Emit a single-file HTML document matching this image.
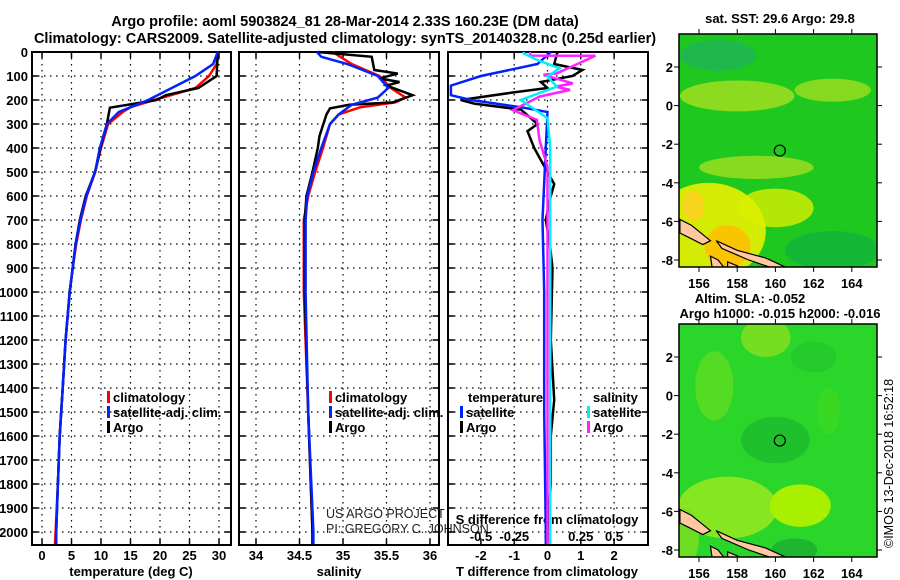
<!DOCTYPE html>
<html><head><meta charset="utf-8"><style>
body{margin:0;background:#fff}
svg{display:block;font-family:"Liberation Sans",sans-serif;font-weight:bold}
</style></head><body>
<svg id="c" width="900" height="580" viewBox="0 0 900 580">
<text x="345" y="26" font-size="14.5" text-anchor="middle">Argo profile: aoml 5903824_81 28-Mar-2014 2.33S 160.23E (DM data)</text>
<text x="345" y="43" font-size="14.5" text-anchor="middle">Climatology: CARS2009. Satellite-adjusted climatology: synTS_20140328.nc (0.25d earlier)</text>
<g id="g"></g>
</svg>
<script>
const depthTicks=[0,100,200,300,400,500,600,700,800,900,1000,1100,1200,1300,1400,1500,1600,1700,1800,1900,2000];
const tempTicks=[0,5,10,15,20,25,30];
const salTicks=[34,34.5,35,35.5,36];
const dTTicks=[-2,-1,0,1,2];
const dSTicks=[-0.5,-0.25,0,0.25,0.5];
const tArgoDepth=[0,100,150,180,200,232,300,400,500,600,700,800,900,1000,1200,1400,1600,1800,2000,2050];
const tArgo=[29.8,29.6,26.5,21,19.4,11.5,11,9.9,9,7.4,6.4,5.7,5.2,4.7,4,3.5,3,2.7,2.4,2.4];
const tClimDepth=[0,50,100,150,200,230,250,300,400,500,600,700,800,900,1000,1200,1400,1600,1800,2000,2050];
const tClim=[29.8,29.6,28.3,26,19,15,13.7,11.2,10,9,7.6,6.6,5.8,5.2,4.7,4,3.5,3,2.7,2.3,2.2];
const tSatDepth=[0,50,100,150,200,250,300,400,500,600,700,800,900,1000,1200,1400,1600,1800,2000,2050];
const tSat=[29.8,29,26,22,18,13,11,9.8,9,7.5,6.5,5.7,5.2,4.7,4,3.5,3,2.7,2.4,2.4];
const sArgoDepth=[0,20,75,90,110,125,140,180,210,220,235,260,350,400,500,600,700,1000,1500,2000,2050];
const sArgo=[34.71,35.33,35.36,35.63,35.42,35.65,35.5,35.8,35.57,35.07,34.85,34.81,34.73,34.71,34.65,34.58,34.56,34.56,34.6,34.65,34.65];
const sClimDepth=[0,50,100,150,190,210,230,260,300,400,500,600,700,1000,1500,2000,2050];
const sClim=[34.88,35.1,35.42,35.55,35.72,35.6,35.2,34.95,34.85,34.77,34.68,34.6,34.55,34.55,34.6,34.65,34.65];
const sSatDepth=[0,20,50,100,150,190,220,260,300,400,500,600,700,1000,1500,2000,2050];
const sSat=[34.7,34.75,35.05,35.4,35.52,35.4,35.1,34.95,34.85,34.75,34.66,34.59,34.57,34.57,34.6,34.66,34.66];
const dTSatDepth=[0,50,100,140,180,200,230,250,400,700,1000,1500,2000,2050];
const dTSat=[0.1,-0.3,-2,-2.9,-2.9,-2.3,-0.8,0,-0.05,-0.15,-0.1,-0.1,-0.05,-0.05];
const dTArgoDepth=[0,50,75,100,125,150,170,200,215,240,300,330,400,450,500,550,600,700,800,900,1200,1450,1600,1800,2000,2050];
const dTArgo=[0.3,0.2,1.05,0.75,-0.2,0,-1.1,-2.6,-2.2,-0.8,-0.3,-0.6,-0.4,-0.2,0,0.2,0.1,-0.05,0.07,0.15,0.1,0.2,0.1,0.1,0,0];
const dSArgoDepth=[0,15,16,89,95,131,144,158,186,242,283,367,478,700,1000,1500,2000,2050];
const dSArgo=[-0.13,-0.13,0.36,0.07,-0.03,0.19,0.06,0.17,-0.06,-0.26,-0.08,-0.06,0,0,0,0,0,0];
const dSSatDepth=[0,5,33,68,103,144,200,276,400,700,1000,1500,2000,2050];
const dSSat=[-0.18,-0.18,-0.08,0.09,0,0.07,-0.2,0,0.02,0.02,0.02,0.02,0.02,0.02];

const NS='http://www.w3.org/2000/svg';const G=document.getElementById('g');
function el(t,a,p){const e=document.createElementNS(NS,t);for(const k in a)e.setAttribute(k,a[k]);(p||G).appendChild(e);return e;}
const yTop=52,yPer=0.24;
function yD(d){return yTop+d*yPer;}
const yBot=545;
function panel(x0,x1,name){
  const r=el('rect',{x:x0,y:yTop,width:x1-x0,height:yBot-yTop,fill:'none',stroke:'#000','stroke-width':2});
  
  depthTicks.forEach(d=>{const y=yD(d);
    const l=el('line',{x1:x0,x2:x1,y1:y,y2:y,stroke:'#000','stroke-dasharray':'1.5 4.5','stroke-width':1.2});
    
    el('line',{x1:x0,x2:x0+6,y1:y,y2:y,stroke:'#000','stroke-width':1.5});
    el('line',{x1:x1-6,x2:x1,y1:y,y2:y,stroke:'#000','stroke-width':1.5});
  });
}
function vgrid(xs,sx,x0,x1){xs.forEach(v=>{const x=sx(v);
  const l=el('line',{x1:x,x2:x,y1:yTop,y2:yBot,stroke:'#000','stroke-dasharray':'1.5 4.5','stroke-width':1.2});
  
  el('line',{x1:x,x2:x,y1:yBot-6,y2:yBot,stroke:'#000','stroke-width':1.5});
  el('line',{x1:x,x2:x,y1:yTop,y2:yTop+6,stroke:'#000','stroke-width':1.5});});}
function xlabels(xs,sx,y,name){xs.forEach(v=>{const t=el('text',{x:sx(v),y:y,'font-size':13,'text-anchor':'middle'});t.textContent=String(v);
  });}
function line(ds,vs,sx,col,name,w){let p='';ds.forEach((d,i)=>{p+=(i?'L':'M')+sx(vs[i]).toFixed(1)+','+yD(d).toFixed(1);});
  const e=el('path',{d:p,fill:'none',stroke:col,'stroke-width':w||2.5,'stroke-linejoin':'miter'});
  }
function txt(x,y,s,size,name,extra){const t=el('text',Object.assign({x:x,y:y,'font-size':size},extra||{}));t.textContent=s;
  return t;}
function legend(x,y,items,name){items.forEach((it,i)=>{
  const b=el('rect',{x:x,y:y+i*15-11,width:3,height:12,fill:it[1]});
  
  txt(x+6,y+i*15,it[0],13,name+'-entry');});}

// depth labels
depthTicks.forEach(d=>{txt(28,yD(d)+5,String(d),13,'depth-tick-label',{'text-anchor':'end'});});

// Panel 1 temperature
const sxT=v=>42+v*5.9;
panel(32,231,'temperature-panel');vgrid(tempTicks,sxT);
xlabels(tempTicks,sxT,560,'temperature-tick-label');
txt(131,576,'temperature (deg C)',13,'temperature-axis-title',{'text-anchor':'middle'});
line(tClimDepth,tClim,sxT,'#ff0000','temperature-climatology-line');
line(tArgoDepth,tArgo,sxT,'#000','temperature-argo-line');
line(tSatDepth,tSat,sxT,'#0022ff','temperature-satellite-line');
legend(107,402,[['climatology','#ff0000'],['satellite-adj. clim.','#0022ff'],['Argo','#000']],'temperature-legend');

// Panel 2 salinity
const sxS=v=>256+(v-34)*87;
panel(239,439,'salinity-panel');vgrid(salTicks,sxS);
xlabels(salTicks,sxS,560,'salinity-tick-label');
txt(339,576,'salinity',13,'salinity-axis-title',{'text-anchor':'middle'});
line(sClimDepth,sClim,sxS,'#ff0000','salinity-climatology-line');
line(sArgoDepth,sArgo,sxS,'#000','salinity-argo-line');
line(sSatDepth,sSat,sxS,'#0022ff','salinity-satellite-line');
legend(329,402,[['climatology','#ff0000'],['satellite-adj. clim.','#0022ff'],['Argo','#000']],'salinity-legend');
txt(326,518,'US ARGO PROJECT',12.5,'project-credit',{'font-weight':'normal',fill:'#222'});
txt(326,533,'PI: GREGORY C. JOHNSON',12.5,'pi-credit',{'font-weight':'normal',fill:'#222'});

// Panel 3 differences
const sxDT=v=>547.5+v*33.3;
const sxDS=v=>547.5+v*133;
panel(448,648,'difference-panel');vgrid(dTTicks,sxDT);
xlabels(dTTicks,sxDT,560,'t-difference-tick-label');
xlabels(dSTicks,sxDS,541,'s-difference-tick-label');
txt(547,524,'S difference from climatology',13,'s-difference-axis-title',{'text-anchor':'middle'});
txt(547,576,'T difference from climatology',13,'t-difference-axis-title',{'text-anchor':'middle'});
line(dTArgoDepth,dTArgo,sxDT,'#000','t-difference-argo-line');
line(dTSatDepth,dTSat,sxDT,'#0022ff','t-difference-satellite-line');
line(dSArgoDepth,dSArgo,sxDS,'#ff22ff','s-difference-argo-line');
line(dSSatDepth,dSSat,sxDS,'#00eeff','s-difference-satellite-line');
txt(468,402,'temperature',13,'t-legend-title');
legend(460,417,[['satellite','#0022ff'],['Argo','#000']],'t-difference-legend');
txt(593,402,'salinity',13,'s-legend-title');
legend(587,417,[['satellite','#00eeff'],['Argo','#ff22ff']],'s-difference-legend');

// Maps
const lonTicks=[156,158,160,162,164],latTicks=[2,0,-2,-4,-6,-8];
const mx=v=>699+(v-156)*19.1;
function map(y0,name,base,blobs,title1,title2){
  const myy=v=>y0+33-(v-2)*19.3;
  const cp=el('clipPath',{id:name+'-clip'});el('rect',{x:679,y:y0,width:198,height:233},cp);
  const g=el('g',{'clip-path':'url(#'+name+'-clip)'});
  
  el('rect',{x:679,y:y0,width:198,height:233,fill:base},g);
  blobs.forEach(b=>el('ellipse',{cx:mx(b[0]),cy:myy(b[1]),rx:b[2]*19.1,ry:b[3]*19.3,fill:b[4],opacity:b[5]||1},g));
  // land
  el('path',{d:`M${mx(155)},${myy(-5.9)} L${mx(155.6)},${myy(-6.2)} L${mx(156.6)},${myy(-7)} L${mx(156.2)},${myy(-7.2)} L${mx(155.4)},${myy(-6.8)} L${mx(155)},${myy(-6.6)}Z`,fill:'#ffc8a0',stroke:'#000','stroke-width':1.2},g);
  el('path',{d:`M${mx(156.9)},${myy(-7)} L${mx(158)},${myy(-7.5)} L${mx(159.5)},${myy(-7.9)} L${mx(160.6)},${myy(-8.4)} L${mx(160.1)},${myy(-8.5)} L${mx(158.6)},${myy(-8)} L${mx(157.2)},${myy(-7.4)}Z`,fill:'#ffc8a0',stroke:'#000','stroke-width':1.2},g);
  el('path',{d:`M${mx(156.6)},${myy(-7.8)} L${mx(157)},${myy(-8)} L${mx(157.4)},${myy(-8.5)} L${mx(156.7)},${myy(-8.5)}Z`,fill:'#ffc8a0',stroke:'#000','stroke-width':1.2},g);
  el('path',{d:`M${mx(157.5)},${myy(-8.1)} L${mx(158)},${myy(-8.3)} L${mx(158.2)},${myy(-8.5)} L${mx(157.5)},${myy(-8.5)}Z`,fill:'#ffc8a0',stroke:'#000','stroke-width':1.2},g);
  const r=el('rect',{x:679,y:y0,width:198,height:233,fill:'none',stroke:'#000','stroke-width':1.5});
  
  const c=el('circle',{cx:mx(160.23),cy:myy(-2.33),r:5.5,fill:'none',stroke:'#000','stroke-width':1.2});
  
  lonTicks.forEach(v=>{el('line',{x1:mx(v),x2:mx(v),y1:y0+233,y2:y0+238,stroke:'#000'});el('line',{x1:mx(v),x2:mx(v),y1:y0,y2:y0-5,stroke:'#000'});
    txt(mx(v),y0+254,String(v),13,name+'-lon-label',{'text-anchor':'middle'});});
  latTicks.forEach(v=>{el('line',{x1:674,x2:679,y1:myy(v),y2:myy(v),stroke:'#000'});el('line',{x1:877,x2:882,y1:myy(v),y2:myy(v),stroke:'#000'});
    txt(673,myy(v)+5,String(v),13,name+'-lat-label',{'text-anchor':'end'});});
}
map(34,'sst-map','#1ec81e',[
 [158,0.5,3,0.8,'#a8e020',0.8],[163,0.8,2,0.6,'#b0e020',0.7],[159,-3.2,3,0.6,'#a0e020',0.8],
 [156.5,-6.5,3,2.5,'#e8f000',0.9],[160,-5.3,2,1,'#d8f000',0.8],[157.5,-7.3,1.2,1.1,'#ffc000',0.9],
 [155.7,-5.2,0.6,0.8,'#ffd020',0.8],[163,-7.5,2.5,1,'#10b040',0.7],[157,2.6,2,0.8,'#20b060',0.7]
],'','');
txt(780,23,'sat. SST: 29.6 Argo: 29.8',13,'sst-map-title',{'text-anchor':'middle'});
map(324,'sla-map','#2ad62a',[
 [157.5,-5.8,2.6,1.6,'#90e820',0.9],[161.3,-5.7,1.6,1.1,'#a8f000',1],[159.5,3,1.3,1,'#88e020',0.8],
 [156.8,0.5,1,1.8,'#70e020',0.6],[162.8,-0.8,0.6,1.2,'#40d820',0.7],[160,-2.3,1.8,1.2,'#18b030',0.6],
 [161,-8,1.2,0.6,'#18a830',0.7],[162,2,1.2,0.8,'#20c030',0.5],[155.3,-7.3,0.7,1.5,'#80e020',0.8]
],'','');
txt(750,303,'Altim. SLA: -0.052',13,'sla-map-title',{'text-anchor':'middle'});
txt(780,318,'Argo h1000: -0.015 h2000: -0.016',13,'sla-map-subtitle',{'text-anchor':'middle'});
txt(0,0,'©IMOS 13-Dec-2018 16:52:18',12.5,'imos-timestamp',{'font-weight':'normal',transform:'translate(893,548) rotate(-90)'});
</script>
</body></html>
